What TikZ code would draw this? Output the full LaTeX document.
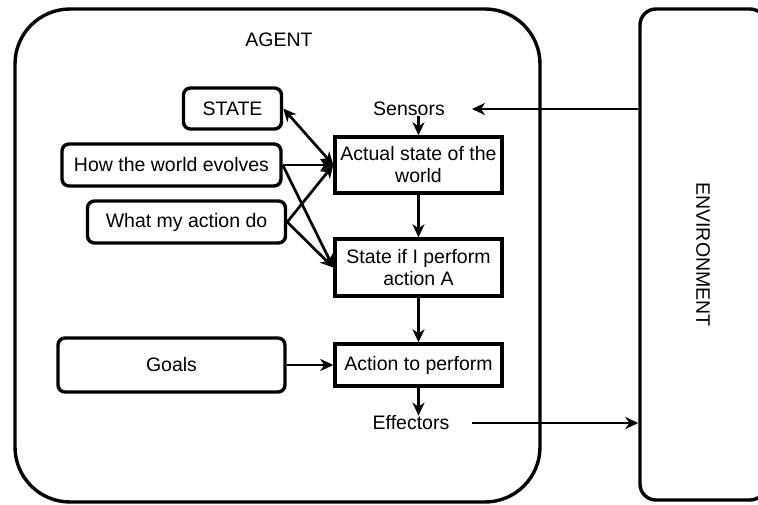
\documentclass[tikz,border=0pt]{standalone}
\usepackage{fontspec}
\setmainfont{Liberation Sans}
\usetikzlibrary{arrows.meta}
\begin{document}
\begin{tikzpicture}[x=1pt,y=-1pt,
  every node/.style={font=\fontsize{19.5}{22}\selectfont, inner sep=0pt, align=center},
  bigbox/.style={draw, line width=3.4pt},
  rbox/.style={draw, line width=3.4pt, rounded corners=7pt},
  sbox/.style={draw, line width=3.4pt},
  arr/.style={line width=2.7pt, -{Stealth[length=13pt,width=12pt,inset=4pt]}},
  arrtwo/.style={line width=2.7pt, {Stealth[length=13pt,width=12pt,inset=4pt]}-{Stealth[length=13pt,width=12pt,inset=4pt]}},
  plain/.style={}]
\clip (0,0) rectangle (758,504);
\fill[white] (0,0) rectangle (758,504);
% containers
\node[bigbox, rounded corners=55pt, minimum width=525pt, minimum height=493pt] (agent) at (277.5,255.5) {};
\node[plain] (agentlabel) at (279,40) {AGENT};
\node[bigbox, rounded corners=16pt, minimum width=126pt, minimum height=491pt,
  label={[rotate=-90, font=\fontsize{19.5}{22}\selectfont]center:ENVIRONMENT}] (env) at (703,254.5) {};
% left boxes
\node[rbox, minimum width=98pt, minimum height=41pt] (state) at (232.5,108.5) {STATE};
\node[rbox, minimum width=219pt, minimum height=42pt] (hw) at (171.5,165) {How the world evolves};
\node[rbox, minimum width=198pt, minimum height=42pt] (wa) at (186.5,222) {What my action do};
\node[rbox, minimum width=227pt, minimum height=54pt] (goals) at (171.5,365) {Goals};
% right boxes
\node[sbox, minimum width=167pt, minimum height=56pt] (actual) at (418.5,165) {Actual state of the\\world};
\node[sbox, minimum width=167pt, minimum height=57pt] (stif) at (418.5,267.5) {State if I perform\\action A};
\node[sbox, minimum width=167pt, minimum height=42pt] (action) at (418.5,365) {Action to perform};
% labels
\node[plain] (sensors) at (409,109) {Sensors};
\node[plain] (effectors) at (411,423) {Effectors};
% connectors
\draw[arr, shorten >=27pt] (env.west |- sensors.east) -- (sensors.east);
\draw[arr] (actual.north |- sensors.south) -- (actual.north);
\draw[arrtwo] (state.east) -- (actual.west);
\draw[arr] (hw.east) -- (actual.west);
\draw[arr] (hw.east) -- (stif.west);
\draw[arr] (wa.east) -- (actual.west);
\draw[arr] (wa.east) -- (stif.west);
\draw[arr] (actual.south) -- (stif.north);
\draw[arr] (stif.south) -- (action.north);
\draw[arr] (goals.east) -- (action.west);
\draw[arr] (action.south) -- (action.south |- effectors.north);
\draw[arr, shorten <=22pt] (effectors.east) -- (env.west |- effectors.east);
\end{tikzpicture}
\end{document}
